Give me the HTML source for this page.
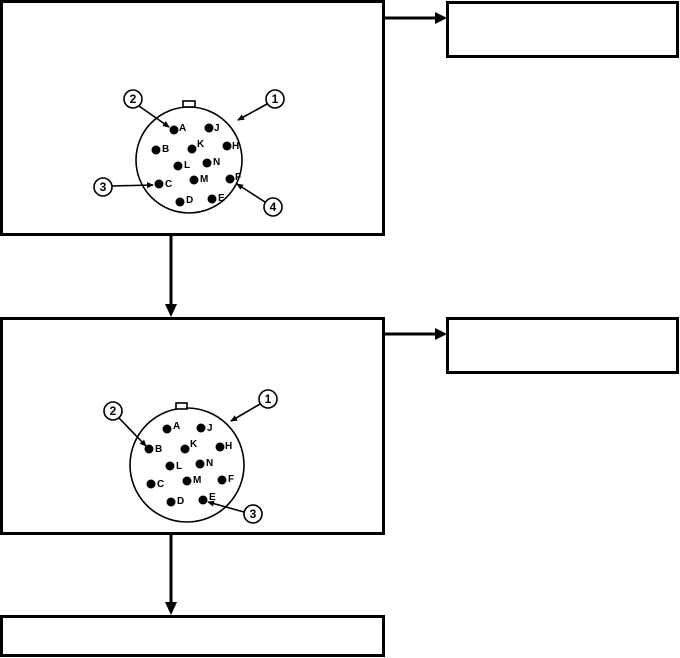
<!DOCTYPE html>
<html><head><meta charset="utf-8"><style>
html,body{margin:0;padding:0;background:#fff;}
svg{display:block;}
text{font-family:"Liberation Sans",Arial,sans-serif;font-weight:bold;}
</style></head><body>
<svg width="680" height="658" viewBox="0 0 680 658" xmlns="http://www.w3.org/2000/svg">
<defs>
<marker id="ah" markerWidth="7" markerHeight="6" refX="6" refY="3" orient="auto" markerUnits="userSpaceOnUse"><path d="M0,0 L7,3 L0,6 z" fill="#000"/></marker>
</defs>
<g fill="none" stroke="#000" stroke-width="3">
<rect x="1.5" y="1.5" width="382" height="233"/>
<rect x="447.5" y="2.5" width="230" height="54"/>
<rect x="1.5" y="318.5" width="382" height="215"/>
<rect x="447.5" y="318.5" width="230" height="54"/>
<rect x="1.5" y="616.5" width="382" height="39"/>
<line x1="384" y1="18" x2="436" y2="18"/>
<line x1="384" y1="334" x2="436" y2="334"/>
<line x1="171" y1="235" x2="171" y2="305"/>
<line x1="171" y1="534" x2="171" y2="603"/>
</g>
<g fill="#000">
<path d="M435,12 L447,18 L435,24z"/>
<path d="M435,328 L447,334 L435,340z"/>
<path d="M165,304 L177,304 L171,317z"/>
<path d="M165,602 L177,602 L171,615z"/>
</g>
<!-- connector 1 -->
<g fill="none" stroke="#000" stroke-width="1.6">
<circle cx="189" cy="160" r="53"/>
<rect x="183" y="101" width="12" height="6" fill="#fff"/>
<circle cx="275" cy="99" r="9" fill="#fff"/>
<circle cx="133" cy="99" r="9" fill="#fff"/>
<circle cx="103" cy="187" r="9" fill="#fff"/>
<circle cx="273" cy="207" r="9" fill="#fff"/>
<line x1="267" y1="104" x2="238" y2="120" marker-end="url(#ah)"/>
<line x1="139" y1="106" x2="169" y2="127" marker-end="url(#ah)"/>
<line x1="112" y1="186" x2="153" y2="185" marker-end="url(#ah)"/>
<line x1="265" y1="202" x2="237" y2="184" marker-end="url(#ah)"/>
</g>
<g font-size="12" text-anchor="middle">
<text x="275" y="103">1</text><text x="133" y="103">2</text><text x="103" y="191">3</text><text x="273" y="211">4</text>
</g>
<g fill="#000">
<circle cx="174" cy="130" r="4.5"/><circle cx="209" cy="128" r="4.5"/><circle cx="156" cy="150" r="4.5"/>
<circle cx="192" cy="149" r="4.5"/><circle cx="227" cy="146" r="4.5"/><circle cx="178" cy="166" r="4.5"/>
<circle cx="207" cy="163" r="4.5"/><circle cx="159" cy="184" r="4.5"/><circle cx="194" cy="180" r="4.5"/>
<circle cx="230" cy="179" r="4.5"/><circle cx="180" cy="202" r="4.5"/><circle cx="212" cy="199" r="4.5"/>
</g>
<g font-size="10">
<text x="179" y="131">A</text><text x="214" y="131">J</text><text x="162" y="152">B</text>
<text x="197" y="147">K</text><text x="232" y="149">H</text><text x="184" y="168">L</text>
<text x="213" y="165">N</text><text x="165" y="187">C</text><text x="200" y="182">M</text>
<text x="235" y="180">F</text><text x="186" y="203">D</text><text x="218" y="201">E</text>
</g>
<!-- connector 2 -->
<g fill="none" stroke="#000" stroke-width="1.6">
<circle cx="187" cy="465" r="57"/>
<rect x="176" y="403" width="11" height="6" fill="#fff"/>
<circle cx="268" cy="399" r="9" fill="#fff"/>
<circle cx="113" cy="411" r="9" fill="#fff"/>
<circle cx="253" cy="514" r="9" fill="#fff"/>
<line x1="260" y1="404" x2="231" y2="421" marker-end="url(#ah)"/>
<line x1="119" y1="418" x2="146" y2="446" marker-end="url(#ah)"/>
<line x1="244" y1="512" x2="208" y2="502" marker-end="url(#ah)"/>
</g>
<g font-size="12" text-anchor="middle">
<text x="268" y="403">1</text><text x="113" y="415">2</text><text x="253" y="518">3</text>
</g>
<g fill="#000">
<circle cx="167" cy="429" r="4.5"/><circle cx="201" cy="428" r="4.5"/><circle cx="149" cy="449" r="4.5"/>
<circle cx="185" cy="449" r="4.5"/><circle cx="220" cy="447" r="4.5"/><circle cx="170" cy="466" r="4.5"/>
<circle cx="200" cy="464" r="4.5"/><circle cx="151" cy="484" r="4.5"/><circle cx="187" cy="481" r="4.5"/>
<circle cx="222" cy="480" r="4.5"/><circle cx="171" cy="502" r="4.5"/><circle cx="203" cy="500" r="4.5"/>
</g>
<g font-size="10">
<text x="173" y="429">A</text><text x="207" y="431">J</text><text x="155" y="452">B</text>
<text x="190" y="447">K</text><text x="225" y="449">H</text><text x="176" y="469">L</text>
<text x="206" y="466">N</text><text x="157" y="487">C</text><text x="193" y="483">M</text>
<text x="228" y="482">F</text><text x="177" y="504">D</text><text x="209" y="500">E</text>
</g>
</svg>
</body></html>
